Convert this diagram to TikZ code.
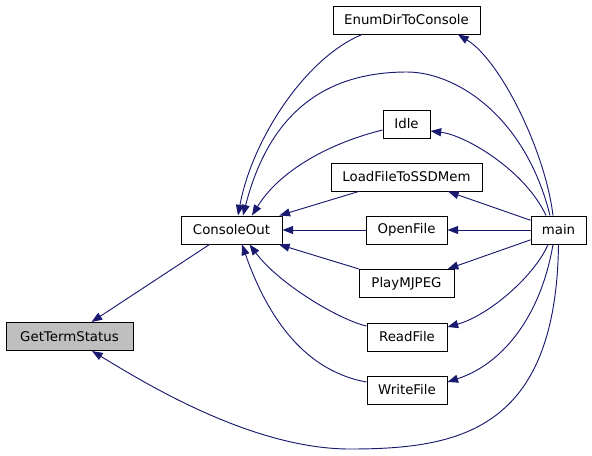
\documentclass[tikz,border=0pt]{standalone}
\usepackage{fontspec}
\setmainfont{DejaVu Sans}
\usepackage{tikz}
\usetikzlibrary{calc,arrows.meta}
\usepackage{xcolor}
\definecolor{edgeblue}{RGB}{25,25,112}
\definecolor{focusgray}{RGB}{191,191,191}

\begin{document}
\begin{tikzpicture}[x=0.75pt,y=-0.75pt,
  func/.style={draw=black,fill=white,line width=0.75pt,minimum height=21pt,inner sep=0pt,font=\fontsize{10}{12}\selectfont},
  call/.style={draw=edgeblue,line width=0.7pt,-{Triangle[length=8pt,width=6pt]}}]
  \useasboundingbox (0,0) rectangle (592,455);

  % Functions
  \node[func,fill=focusgray,minimum width=95.25pt] (gts) at (69.5,336.5) {GetTermStatus};
  \node[func,minimum width=75.75pt] (console) at (231.5,230) {ConsoleOut};
  \node[func,minimum width=110.25pt] (enum) at (406.5,20) {EnumDirToConsole};
  \node[func,minimum width=35.25pt] (idle) at (406.5,124) {Idle};
  \node[func,minimum width=113.25pt] (load) at (406.5,177) {LoadFileToSSDMem};
  \node[func,minimum width=60.75pt] (open) at (406.5,230) {OpenFile};
  \node[func,minimum width=71.25pt] (play) at (406.5,283.5) {PlayMJPEG};
  \node[func,minimum width=60pt] (read) at (407,337) {ReadFile};
  \node[func,minimum width=60pt] (write) at (407,390) {WriteFile};
  \node[func,minimum width=41.25pt] (main) at (558.5,230) {main};

  % Calls into GetTermStatus
  \draw[call] (console) -- (gts);
  \draw[call] (main.south) .. controls (556,430) and (460,449) .. (350,449)
    .. controls (250,449) and (140,380) .. ($(gts.south)+(22.5,0)$);

  % Calls into ConsoleOut
  \draw[call] ($(enum.south)+(-44.5,0)$) .. controls (305,58) and (252,140) .. ($(console.north)+(6.5,0)$);
  \draw[call] ($(main.north)+(-8.5,0)$) .. controls (525,115) and (455,72) .. (407,72)
    .. controls (320,72) and (268,118) .. ($(console.north)+(11.5,0)$);
  \draw[call] ($(idle.west)+(0,6)$) .. controls (330,143) and (280,170) .. ($(console.north)+(20.5,0)$);
  \draw[call] (load) -- (console);
  \draw[call] (open) -- (console);
  \draw[call] (play) -- (console);
  \draw[call] ($(read.west)+(0,-11)$) .. controls (340,320) and (280,285) .. ($(console.south)+(18,0)$);
  \draw[call] ($(write.west)+(0,-8)$) .. controls (300,370) and (265,310) .. ($(console.south)+(10.5,0)$);

  % Calls from main
  \draw[call] ($(main.north)+(-5.5,0)$) .. controls (545,150) and (500,60) .. ($(enum.south)+(51.5,0)$);
  \draw[call] ($(main.north)+(-12.5,0)$) .. controls (525,170) and (465,135) .. ($(idle.east)+(0,7)$);
  \draw[call] (main) -- (load);
  \draw[call] (main) -- (open);
  \draw[call] (main) -- (play);
  \draw[call] ($(main.south)+(-10.5,0)$) .. controls (535,275) and (490,315) .. ($(read.east)+(0,-10)$);
  \draw[call] ($(main.south)+(-5.5,0)$) .. controls (540,320) and (500,365) .. ($(write.east)+(0,-8)$);
\end{tikzpicture}
\end{document}
